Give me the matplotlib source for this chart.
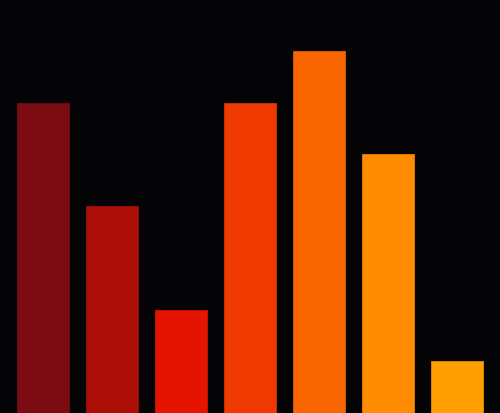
import matplotlib
matplotlib.use("Agg")
import matplotlib.pyplot as plt

categories = ["A", "B", "C", "D", "E", "F", "G"]
values = [6, 4, 2, 6, 7, 5, 1]
colors = ["#7b0c12", "#ab0f08", "#e41400", "#ee3a00", "#f96600", "#ff8c00", "#ffa000"]
edge_colors = ["#6e0b10", "#9a0d07", "#cd1200", "#d63400", "#e05c00", "#e67e00", "#e69000"]

fig = plt.figure(figsize=(5.0, 4.14), dpi=100)
fig.patch.set_facecolor("#040406")
ax = fig.add_axes([0, 0, 1, 1])
ax.set_facecolor("#040406")

x = range(len(categories))
ax.bar(x, values, width=0.75, color=colors, edgecolor=edge_colors, linewidth=0.6)

ax.set_xlim(-0.623, 6.623)
ax.set_ylim(0, 8.0)
ax.axis("off")

fig.savefig("out.png", dpi=100, facecolor=fig.get_facecolor())
